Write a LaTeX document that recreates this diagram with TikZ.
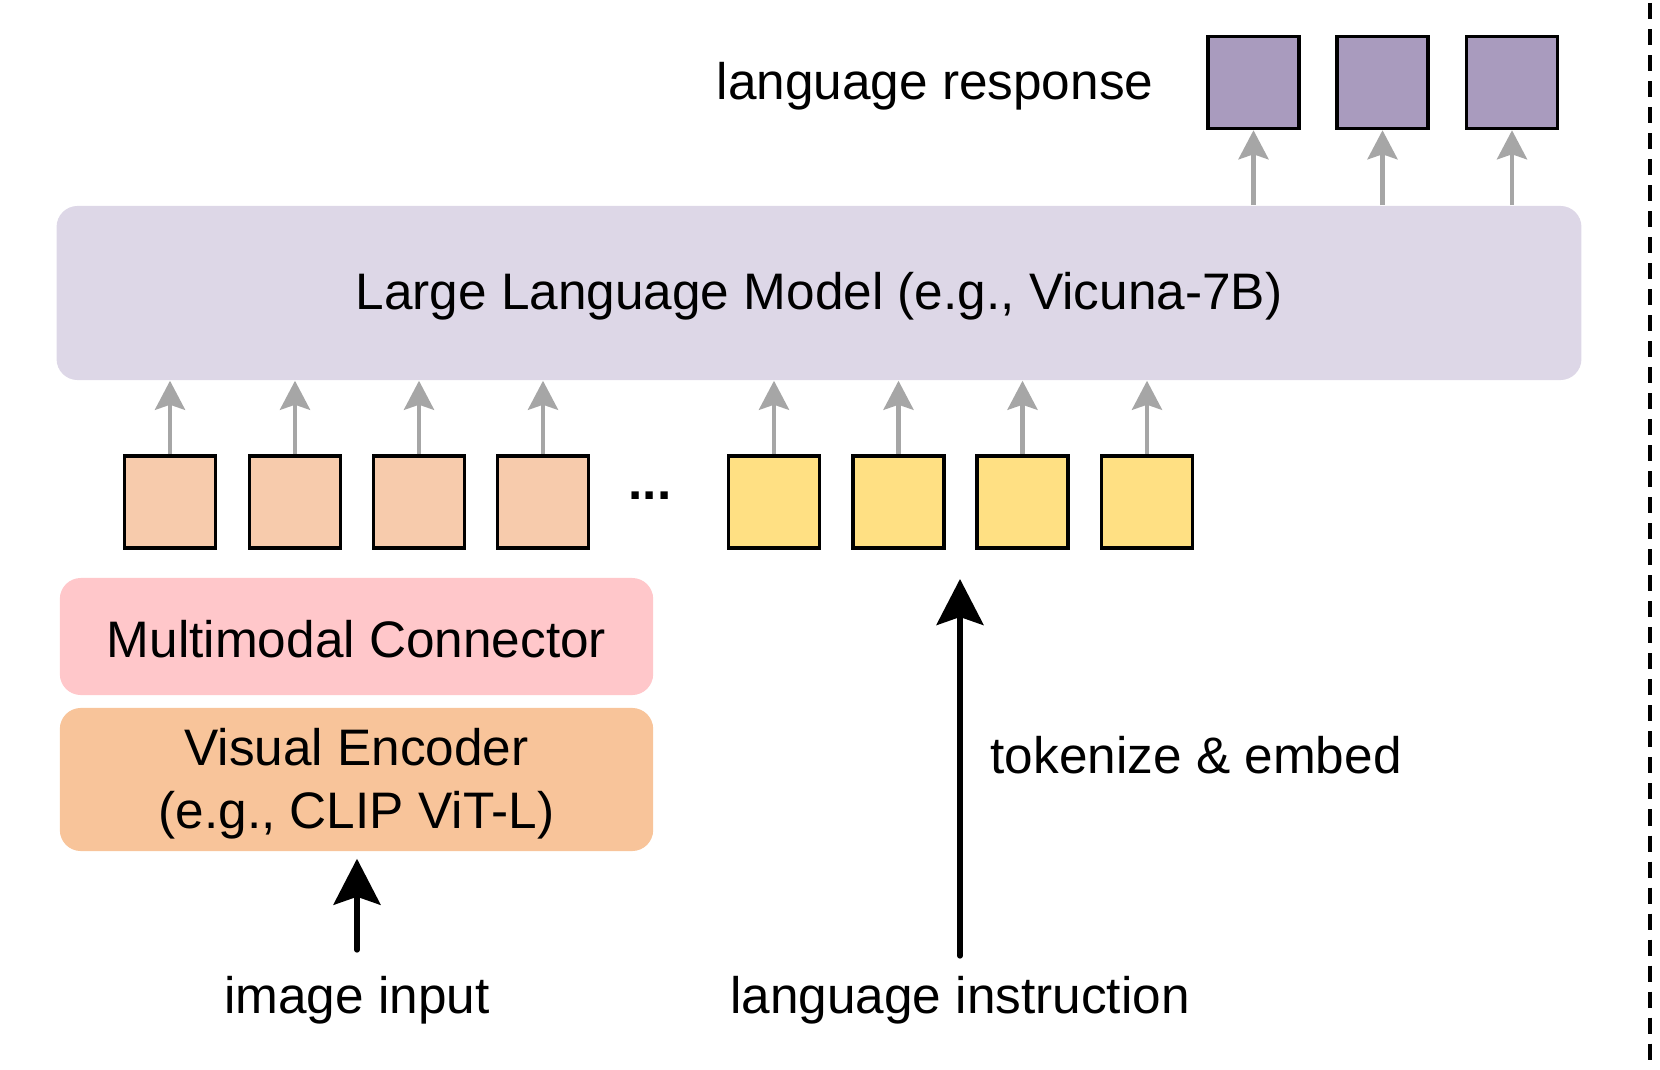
\documentclass[tikz,border=0pt]{standalone}
\usepackage{fontspec}
\setmainfont{Liberation Sans}
\usetikzlibrary{arrows.meta}
\definecolor{llmfill}{HTML}{DDD7E7}
\definecolor{mmfill}{HTML}{FFC7CA}
\definecolor{vefill}{HTML}{F8C49A}
\definecolor{orangetok}{HTML}{F7CBAC}
\definecolor{yellowtok}{HTML}{FFE083}
\definecolor{purpletok}{HTML}{A99BBE}
\definecolor{arrowgray}{HTML}{A6A6A6}
\begin{document}
\begin{tikzpicture}[x=0.01cm,y=-0.01cm,
  font=\fontsize{14.6}{18}\selectfont,
  tok/.style={draw=black, line width=1pt, minimum width=0.91cm, minimum height=0.92cm, inner sep=0pt},
  grayarr/.style={draw=arrowgray, line width=1.25pt, -{Stealth[length=0.29cm,width=0.30cm,inset=0.05cm]}},
  blackarr/.style={draw=black, line width=1.5pt, line cap=round, -{Stealth[length=0.46cm,width=0.47cm,inset=0.08cm]}},
  bigbox/.style={rounded corners=0.21cm, inner sep=0pt, align=center},
  lbl/.style={inner sep=0pt, align=center}]
\useasboundingbox (0,0) rectangle (1660,1070);

% Large language model
\node[bigbox, fill=llmfill, minimum width=15.24cm, minimum height=1.74cm] (llm) at (819,293) {};
\node[lbl] (llmtxt) at (819,296) {Large Language Model (e.g., Vicuna-7B)};

% response tokens
\node[tok, fill=purpletok] (r1) at (1253.5,82.5) {};
\node[tok, fill=purpletok] (r2) at (1382.5,82.5) {};
\node[tok, fill=purpletok] (r3) at (1512,82.5) {};
\node[lbl] (resp) at (935,86) {language response};
\foreach \i in {1,2,3} {
  \draw[grayarr] (r\i |- llm.north) -- (r\i.south);
}

% image tokens
\node[tok, fill=orangetok] (o1) at (170,502) {};
\node[tok, fill=orangetok] (o2) at (295,502) {};
\node[tok, fill=orangetok] (o3) at (419,502) {};
\node[tok, fill=orangetok] (o4) at (543,502) {};
\node[lbl, font=\fontsize{14.6}{18}\selectfont\bfseries] (dots) at (650,496) {...};

% language tokens
\node[tok, fill=yellowtok] (y1) at (774,502) {};
\node[tok, fill=yellowtok] (y2) at (898.5,502) {};
\node[tok, fill=yellowtok] (y3) at (1022.5,502) {};
\node[tok, fill=yellowtok] (y4) at (1147,502) {};

\foreach \n in {o1,o2,o3,o4,y1,y2,y3,y4} {
  \draw[grayarr] (\n.north) -- (\n |- llm.south);
}

% connector and encoder
\node[bigbox, fill=mmfill, minimum width=5.93cm, minimum height=1.17cm] (mm) at (356.5,636.5) {};
\node[lbl] (mmtxt) at (356.5,639) {Multimodal Connector};
\node[bigbox, fill=vefill, minimum width=5.93cm, minimum height=1.43cm] (ve) at (356.5,779.5) {};
\node[lbl] (vetxt) at (356.5,784) {Visual Encoder\\(e.g., CLIP ViT-L)};

% inputs
\node[lbl] (img) at (357,1000) {image input};
\node[lbl] (inst) at (960,1000) {language instruction};
\node[lbl, anchor=west] (tok) at (990,755) {tokenize \& embed};

\coordinate (imgstart) at (357,950);
\draw[blackarr, shorten >=0.07cm] (imgstart) -- (imgstart |- ve.south);

\coordinate (inststart) at (960,956);
\coordinate (insttip) at (960,579);
\draw[blackarr] (inststart) -- (insttip);

% dashed separator
\coordinate (sep1) at (1650,3);
\coordinate (sep2) at (1650,1064);
\draw[line width=1.2pt, dash pattern=on 0.16cm off 0.10cm] (sep1) -- (sep2);
\end{tikzpicture}
\end{document}
